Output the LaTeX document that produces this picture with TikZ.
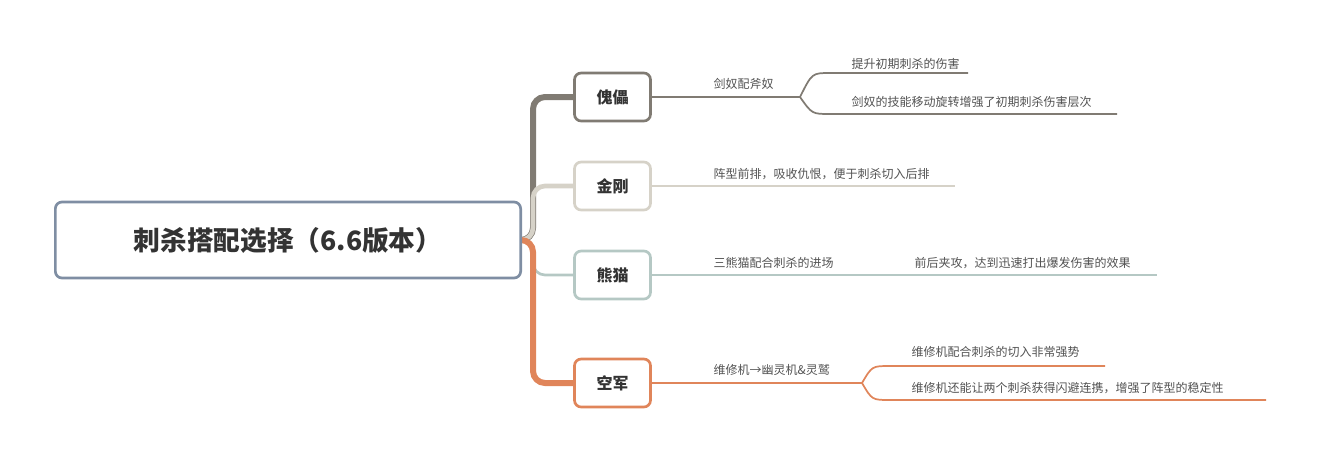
\documentclass[tikz,border=0pt]{standalone}
\usepackage{fontspec}
\setmainfont{Noto Sans CJK SC}
\definecolor{cg}{HTML}{807B73}
\definecolor{cb}{HTML}{D6D2C8}
\definecolor{ct}{HTML}{B5C8C4}
\definecolor{co}{HTML}{E0855A}
\definecolor{cm}{HTML}{7F8EA3}
\definecolor{tx}{HTML}{333333}
\begin{document}
\begin{tikzpicture}[x=0.75pt,y=-0.75pt,
  sub/.style={draw=#1,line width=2pt,rounded corners=5pt,fill=white,minimum width=57pt,minimum height=36pt,font=\bfseries\fontsize{12}{14}\selectfont,text=tx},
  lbl/.style={anchor=south west,inner sep=1pt,font=\fontsize{9}{11}\selectfont,text=tx!85}]
\useasboundingbox (0,0) rectangle (1320,461);
% trunk
\coordinate (t0) at (521,240);
\draw[cg,line width=4.5pt,rounded corners=9pt] (t0) -- (533,240) -- (533,97) -- (576,97);
\draw[cb,line width=3.5pt,rounded corners=9pt] (t0) -- (533,240) -- (533,186) -- (576,186);
\draw[ct,line width=2pt,rounded corners=9pt] (t0) -- (533,240) -- (533,275) -- (576,275);
\draw[co,line width=4.5pt,rounded corners=9pt] (t0) -- (533,240) -- (533,383) -- (576,383);
\node[draw=cm,line width=2pt,rounded corners=5pt,fill=white,minimum width=349pt,minimum height=57pt,font=\bfseries\fontsize{20}{24}\selectfont,text=tx] (main) at (288,240) {刺杀搭配选择（6.6版本）};
\node[sub=cg] (a) at (612.5,97) {傀儡};
\node[sub=cb] (b) at (612.5,186) {金刚};
\node[sub=ct] (c) at (612.5,275) {熊猫};
\node[sub=co] (d) at (612.5,383) {空军};
% 傀儡
\coordinate (a1) at (800,97); \coordinate (a2) at (968,73); \coordinate (a3) at (1117,114);
\draw[cg,line width=1.3pt] (a.east) -- (a1) .. controls (812,73) .. (830,73) -- (a2);
\draw[cg,line width=1.3pt] (a1) .. controls (812,114) .. (830,114) -- (a3);
\node[lbl] at (712,91) {剑奴配斧奴};
\node[lbl] at (850,71) {提升初期刺杀的伤害};
\node[lbl] at (850,109) {剑奴的技能移动旋转增强了初期刺杀伤害层次};
% 金刚
\coordinate (b1) at (955,186);
\draw[cb,line width=1.3pt] (b.east) -- (b1);
\node[lbl] at (712,181) {阵型前排，吸收仇恨，便于刺杀切入后排};
% 熊猫
\coordinate (c1) at (1157,275);
\draw[ct,line width=1.3pt] (c.east) -- (c1);
\node[lbl] at (712,270) {三熊猫配合刺杀的进场};
\node[lbl] at (913,270) {前后夹攻，达到迅速打出爆发伤害的效果};
% 空军
\coordinate (d1) at (862,383); \coordinate (d2) at (1105,366); \coordinate (d3) at (1266,400);
\draw[co,line width=1.3pt] (d.east) -- (d1) .. controls (872,366) .. (890,366) -- (d2);
\draw[co,line width=1.3pt] (d1) .. controls (872,400) .. (890,400) -- (d3);
\node[lbl] at (712,377) {维修机→幽灵机\&灵鹫};
\node[lbl] at (910,359) {维修机配合刺杀的切入非常强势};
\node[lbl] at (910,395) {维修机还能让两个刺杀获得闪避连携，增强了阵型的稳定性};
\end{tikzpicture}
\end{document}
